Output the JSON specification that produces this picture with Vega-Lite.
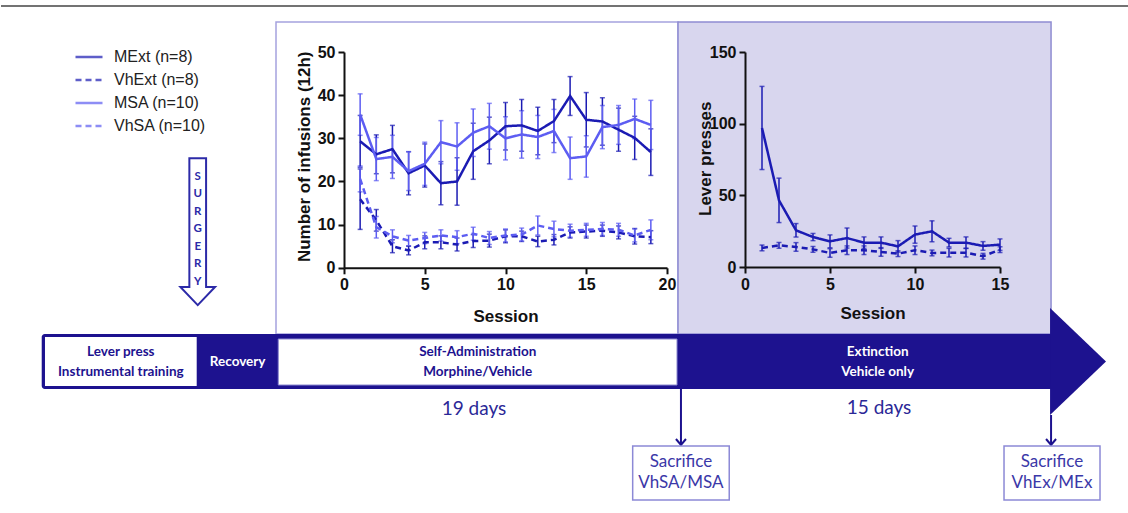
{
  "$schema": "https://vega.github.io/schema/vega-lite/v6.json",
  "padding": 0,
  "autosize": {"type": "pad"},
  "background": "white",
  "spacing": 0,
  "bounds": "flush",
  "config": {
    "view": {"stroke": null},
    "axis": {
      "domain": true, "domainColor": "#111", "domainWidth": 2, "grid": false,
      "labelFont": "Liberation Sans", "labelFontSize": 16, "labelFontWeight": "bold", "labelColor": "#111",
      "labelFlush": false, "labelOverlap": false, "labelPadding": 3,
      "tickColor": "#111", "tickWidth": 2, "tickSize": 6,
      "titleFont": "Liberation Sans", "titleFontSize": 17, "titleFontWeight": "bold", "titleColor": "#111"
    }
  },
  "datasets": {
    "sa": [
      {"s":1,"g":"MExt (n=8)","m":29.3,"lo":23.3,"hi":35.3},
      {"s":2,"g":"MExt (n=8)","m":26.3,"lo":21.8,"hi":30.8},
      {"s":3,"g":"MExt (n=8)","m":27.5,"lo":22.0,"hi":33.0},
      {"s":4,"g":"MExt (n=8)","m":21.9,"lo":16.9,"hi":26.9},
      {"s":5,"g":"MExt (n=8)","m":23.7,"lo":18.7,"hi":28.7},
      {"s":6,"g":"MExt (n=8)","m":19.6,"lo":14.6,"hi":24.6},
      {"s":7,"g":"MExt (n=8)","m":20.0,"lo":14.5,"hi":25.5},
      {"s":8,"g":"MExt (n=8)","m":27.0,"lo":20.5,"hi":33.5},
      {"s":9,"g":"MExt (n=8)","m":29.5,"lo":24.1,"hi":34.9},
      {"s":10,"g":"MExt (n=8)","m":32.8,"lo":27.3,"hi":38.3},
      {"s":11,"g":"MExt (n=8)","m":33.0,"lo":27.0,"hi":39.0},
      {"s":12,"g":"MExt (n=8)","m":31.7,"lo":26.2,"hi":37.2},
      {"s":13,"g":"MExt (n=8)","m":34.0,"lo":29.0,"hi":39.0},
      {"s":14,"g":"MExt (n=8)","m":39.8,"lo":35.3,"hi":44.3},
      {"s":15,"g":"MExt (n=8)","m":34.3,"lo":28.0,"hi":40.6},
      {"s":16,"g":"MExt (n=8)","m":33.9,"lo":28.4,"hi":39.4},
      {"s":17,"g":"MExt (n=8)","m":32.0,"lo":27.0,"hi":37.0},
      {"s":18,"g":"MExt (n=8)","m":30.1,"lo":25.1,"hi":35.1},
      {"s":19,"g":"MExt (n=8)","m":26.8,"lo":21.4,"hi":32.2},
      {"s":1,"g":"MSA (n=10)","m":35.5,"lo":30.7,"hi":40.3},
      {"s":2,"g":"MSA (n=10)","m":25.2,"lo":20.2,"hi":30.2},
      {"s":3,"g":"MSA (n=10)","m":25.7,"lo":20.7,"hi":30.7},
      {"s":4,"g":"MSA (n=10)","m":22.4,"lo":17.9,"hi":26.9},
      {"s":5,"g":"MSA (n=10)","m":24.1,"lo":19.1,"hi":29.1},
      {"s":6,"g":"MSA (n=10)","m":29.1,"lo":24.1,"hi":34.1},
      {"s":7,"g":"MSA (n=10)","m":28.1,"lo":22.6,"hi":33.6},
      {"s":8,"g":"MSA (n=10)","m":31.3,"lo":25.8,"hi":36.8},
      {"s":9,"g":"MSA (n=10)","m":32.8,"lo":27.5,"hi":38.1},
      {"s":10,"g":"MSA (n=10)","m":30.0,"lo":25.0,"hi":35.0},
      {"s":11,"g":"MSA (n=10)","m":30.9,"lo":25.4,"hi":36.4},
      {"s":12,"g":"MSA (n=10)","m":30.3,"lo":25.3,"hi":35.3},
      {"s":13,"g":"MSA (n=10)","m":31.7,"lo":26.7,"hi":36.7},
      {"s":14,"g":"MSA (n=10)","m":25.4,"lo":20.5,"hi":30.3},
      {"s":15,"g":"MSA (n=10)","m":25.8,"lo":21.0,"hi":30.6},
      {"s":16,"g":"MSA (n=10)","m":32.6,"lo":27.6,"hi":37.6},
      {"s":17,"g":"MSA (n=10)","m":33.1,"lo":28.6,"hi":37.6},
      {"s":18,"g":"MSA (n=10)","m":34.5,"lo":29.9,"hi":39.1},
      {"s":19,"g":"MSA (n=10)","m":33.1,"lo":27.4,"hi":38.8},
      {"s":1,"g":"VhExt (n=8)","m":15.9,"lo":8.9,"hi":22.9},
      {"s":2,"g":"VhExt (n=8)","m":11.0,"lo":8.5,"hi":13.5},
      {"s":3,"g":"VhExt (n=8)","m":5.0,"lo":3.5,"hi":6.5},
      {"s":4,"g":"VhExt (n=8)","m":4.0,"lo":3.0,"hi":5.0},
      {"s":5,"g":"VhExt (n=8)","m":5.9,"lo":4.4,"hi":7.4},
      {"s":6,"g":"VhExt (n=8)","m":5.9,"lo":4.4,"hi":7.4},
      {"s":7,"g":"VhExt (n=8)","m":5.4,"lo":3.9,"hi":6.9},
      {"s":8,"g":"VhExt (n=8)","m":6.2,"lo":4.7,"hi":7.7},
      {"s":9,"g":"VhExt (n=8)","m":6.3,"lo":4.8,"hi":7.8},
      {"s":10,"g":"VhExt (n=8)","m":7.3,"lo":5.8,"hi":8.8},
      {"s":11,"g":"VhExt (n=8)","m":7.3,"lo":6.1,"hi":8.5},
      {"s":12,"g":"VhExt (n=8)","m":6.1,"lo":4.9,"hi":7.3},
      {"s":13,"g":"VhExt (n=8)","m":6.5,"lo":5.3,"hi":7.7},
      {"s":14,"g":"VhExt (n=8)","m":8.2,"lo":6.9,"hi":9.5},
      {"s":15,"g":"VhExt (n=8)","m":8.4,"lo":6.9,"hi":9.9},
      {"s":16,"g":"VhExt (n=8)","m":8.6,"lo":7.3,"hi":9.9},
      {"s":17,"g":"VhExt (n=8)","m":8.2,"lo":6.7,"hi":9.7},
      {"s":18,"g":"VhExt (n=8)","m":7.3,"lo":5.5,"hi":9.1},
      {"s":19,"g":"VhExt (n=8)","m":7.1,"lo":5.6,"hi":8.6},
      {"s":1,"g":"VhSA (n=10)","m":20.6,"lo":17.6,"hi":23.6},
      {"s":2,"g":"VhSA (n=10)","m":9.4,"lo":6.9,"hi":11.9},
      {"s":3,"g":"VhSA (n=10)","m":7.3,"lo":5.8,"hi":8.8},
      {"s":4,"g":"VhSA (n=10)","m":6.3,"lo":5.1,"hi":7.5},
      {"s":5,"g":"VhSA (n=10)","m":6.9,"lo":5.6,"hi":8.2},
      {"s":6,"g":"VhSA (n=10)","m":7.5,"lo":6.2,"hi":8.8},
      {"s":7,"g":"VhSA (n=10)","m":7.1,"lo":5.6,"hi":8.6},
      {"s":8,"g":"VhSA (n=10)","m":7.9,"lo":6.4,"hi":9.4},
      {"s":9,"g":"VhSA (n=10)","m":6.9,"lo":5.4,"hi":8.4},
      {"s":10,"g":"VhSA (n=10)","m":7.5,"lo":6.0,"hi":9.0},
      {"s":11,"g":"VhSA (n=10)","m":7.7,"lo":6.2,"hi":9.2},
      {"s":12,"g":"VhSA (n=10)","m":9.8,"lo":7.6,"hi":12.0},
      {"s":13,"g":"VhSA (n=10)","m":9.0,"lo":7.2,"hi":10.8},
      {"s":14,"g":"VhSA (n=10)","m":8.6,"lo":7.1,"hi":10.1},
      {"s":15,"g":"VhSA (n=10)","m":8.8,"lo":7.3,"hi":10.3},
      {"s":16,"g":"VhSA (n=10)","m":9.0,"lo":7.5,"hi":10.5},
      {"s":17,"g":"VhSA (n=10)","m":8.8,"lo":7.3,"hi":10.3},
      {"s":18,"g":"VhSA (n=10)","m":7.5,"lo":6.0,"hi":9.0},
      {"s":19,"g":"VhSA (n=10)","m":8.8,"lo":6.5,"hi":11.1}
    ],
    "ext": [
      {"s":1,"g":"MExt (n=8)","m":97.0,"lo":68.0,"hi":126.0},
      {"s":2,"g":"MExt (n=8)","m":46.5,"lo":31.0,"hi":62.0},
      {"s":3,"g":"MExt (n=8)","m":25.6,"lo":20.9,"hi":30.3},
      {"s":4,"g":"MExt (n=8)","m":20.9,"lo":18.4,"hi":23.4},
      {"s":5,"g":"MExt (n=8)","m":17.9,"lo":13.4,"hi":22.4},
      {"s":6,"g":"MExt (n=8)","m":20.2,"lo":13.2,"hi":27.2},
      {"s":7,"g":"MExt (n=8)","m":17.0,"lo":13.0,"hi":21.0},
      {"s":8,"g":"MExt (n=8)","m":17.0,"lo":13.0,"hi":21.0},
      {"s":9,"g":"MExt (n=8)","m":14.4,"lo":10.4,"hi":18.4},
      {"s":10,"g":"MExt (n=8)","m":22.6,"lo":16.6,"hi":28.6},
      {"s":11,"g":"MExt (n=8)","m":24.9,"lo":17.6,"hi":32.2},
      {"s":12,"g":"MExt (n=8)","m":17.0,"lo":14.0,"hi":20.0},
      {"s":13,"g":"MExt (n=8)","m":17.0,"lo":13.0,"hi":21.0},
      {"s":14,"g":"MExt (n=8)","m":14.7,"lo":11.7,"hi":17.7},
      {"s":15,"g":"MExt (n=8)","m":15.6,"lo":11.6,"hi":19.6},
      {"s":1,"g":"VhExt (n=8)","m":13.3,"lo":11.3,"hi":15.3},
      {"s":2,"g":"VhExt (n=8)","m":15.1,"lo":13.1,"hi":17.1},
      {"s":3,"g":"VhExt (n=8)","m":14.0,"lo":11.0,"hi":17.0},
      {"s":4,"g":"VhExt (n=8)","m":12.3,"lo":10.3,"hi":14.3},
      {"s":5,"g":"VhExt (n=8)","m":9.8,"lo":6.8,"hi":12.8},
      {"s":6,"g":"VhExt (n=8)","m":11.7,"lo":8.7,"hi":14.7},
      {"s":7,"g":"VhExt (n=8)","m":11.7,"lo":8.7,"hi":14.7},
      {"s":8,"g":"VhExt (n=8)","m":10.5,"lo":7.5,"hi":13.5},
      {"s":9,"g":"VhExt (n=8)","m":9.3,"lo":7.3,"hi":11.3},
      {"s":10,"g":"VhExt (n=8)","m":11.7,"lo":8.7,"hi":14.7},
      {"s":11,"g":"VhExt (n=8)","m":9.8,"lo":7.8,"hi":11.8},
      {"s":12,"g":"VhExt (n=8)","m":10.0,"lo":7.0,"hi":13.0},
      {"s":13,"g":"VhExt (n=8)","m":10.0,"lo":7.0,"hi":13.0},
      {"s":14,"g":"VhExt (n=8)","m":7.5,"lo":5.5,"hi":9.5},
      {"s":15,"g":"VhExt (n=8)","m":12.1,"lo":10.1,"hi":14.1}
    ]
  },
  "vconcat": [
    {
      "width": 1128,
      "height": 51.7,
      "data": {"values": [{}]},
      "layer": [
        {"mark": {"type": "rect", "fill": "white"},
         "encoding": {"x": {"datum": 0, "type": "quantitative", "scale": {"domain": [0, 100], "nice": false, "zero": false}, "axis": null}, "x2": {"datum": 100},
                      "y": {"datum": 0, "type": "quantitative", "scale": {"domain": [0, 10.078], "nice": false, "zero": false, "reverse": true}, "axis": null}, "y2": {"datum": 100}}},
        {"mark": {"type": "rule", "stroke": "#444", "strokeWidth": 1.5},
         "encoding": {"x": {"datum": 0, "type": "quantitative", "scale": {"domain": [0, 100], "nice": false, "zero": false}, "axis": null}, "x2": {"datum": 100},
                      "y": {"datum": 1.17, "type": "quantitative", "scale": {"domain": [0, 10.078], "nice": false, "zero": false, "reverse": true}, "axis": null}}},
        {"mark": {"type": "rect", "fill": "white", "stroke": "#a5a2de", "strokeWidth": 1.5},
         "encoding": {"x": {"datum": 24.38, "type": "quantitative", "scale": {"domain": [0, 100], "nice": false, "zero": false}, "axis": null}, "x2": {"datum": 60.02},
                      "y": {"datum": 4.29, "type": "quantitative", "scale": {"domain": [0, 10.078], "nice": false, "zero": false, "reverse": true}, "axis": null}, "y2": {"datum": 65.11}}},
        {"mark": {"type": "rect", "fill": "#d8d6ee", "stroke": "#8f8cd2", "strokeWidth": 1.5},
         "encoding": {"x": {"datum": 60.02, "type": "quantitative", "scale": {"domain": [0, 100], "nice": false, "zero": false}, "axis": null}, "x2": {"datum": 93.09},
                      "y": {"datum": 4.29, "type": "quantitative", "scale": {"domain": [0, 10.078], "nice": false, "zero": false, "reverse": true}, "axis": null}, "y2": {"datum": 65.11}}},
        {"mark": {"type": "rect", "fill": "#1d128f", "cornerRadius": 3},
         "encoding": {"x": {"datum": 3.61, "type": "quantitative", "scale": {"domain": [0, 100], "nice": false, "zero": false}, "axis": null}, "x2": {"datum": 93.26},
                      "y": {"datum": 65.11, "type": "quantitative", "scale": {"domain": [0, 10.078], "nice": false, "zero": false, "reverse": true}, "axis": null}, "y2": {"datum": 75.83}}},
        {"mark": {"type": "point", "shape": "M-0.523,-1L0.523,0L-0.523,1Z", "size": 11449, "filled": true, "color": "#1d128f", "opacity": 1, "strokeWidth": 0},
         "encoding": {"x": {"datum": 95.48, "type": "quantitative", "scale": {"domain": [0, 100], "nice": false, "zero": false}, "axis": null},
                      "y": {"datum": 70.47, "type": "quantitative", "scale": {"domain": [0, 10.078], "nice": false, "zero": false, "reverse": true}, "axis": null}}},
        {"mark": {"type": "rect", "fill": "white"},
         "encoding": {"x": {"datum": 3.90, "type": "quantitative", "scale": {"domain": [0, 100], "nice": false, "zero": false}, "axis": null}, "x2": {"datum": 17.35},
                      "y": {"datum": 65.69, "type": "quantitative", "scale": {"domain": [0, 10.078], "nice": false, "zero": false, "reverse": true}, "axis": null}, "y2": {"datum": 75.24}}},
        {"mark": {"type": "rect", "fill": "white", "stroke": "#8a87d0", "strokeWidth": 1},
         "encoding": {"x": {"datum": 24.58, "type": "quantitative", "scale": {"domain": [0, 100], "nice": false, "zero": false}, "axis": null}, "x2": {"datum": 59.93},
                      "y": {"datum": 66.08, "type": "quantitative", "scale": {"domain": [0, 10.078], "nice": false, "zero": false, "reverse": true}, "axis": null}, "y2": {"datum": 75.05}}},
        {"mark": {"type": "rule", "stroke": "#1d128f", "strokeWidth": 2},
         "encoding": {"x": {"datum": 60.28, "type": "quantitative", "scale": {"domain": [0, 100], "nice": false, "zero": false}, "axis": null},
                      "y": {"datum": 75.83, "type": "quantitative", "scale": {"domain": [0, 10.078], "nice": false, "zero": false, "reverse": true}, "axis": null}, "y2": {"datum": 86.74}}},
        {"mark": {"type": "rule", "stroke": "#1d128f", "strokeWidth": 2},
         "encoding": {"x": {"datum": 93.09, "type": "quantitative", "scale": {"domain": [0, 100], "nice": false, "zero": false}, "axis": null},
                      "y": {"datum": 80.9, "type": "quantitative", "scale": {"domain": [0, 10.078], "nice": false, "zero": false, "reverse": true}, "axis": null}, "y2": {"datum": 86.74}}},
        {"mark": {"type": "point", "shape": "M-1,-0.6L0,0.6L1,-0.6", "size": 100, "filled": false, "stroke": "#1d128f", "strokeWidth": 2, "opacity": 1},
         "encoding": {"x": {"datum": 60.28, "type": "quantitative", "scale": {"domain": [0, 100], "nice": false, "zero": false}, "axis": null},
                      "y": {"datum": 86.16, "type": "quantitative", "scale": {"domain": [0, 10.078], "nice": false, "zero": false, "reverse": true}, "axis": null}}},
        {"mark": {"type": "point", "shape": "M-1,-0.6L0,0.6L1,-0.6", "size": 100, "filled": false, "stroke": "#1d128f", "strokeWidth": 2, "opacity": 1},
         "encoding": {"x": {"datum": 93.09, "type": "quantitative", "scale": {"domain": [0, 100], "nice": false, "zero": false}, "axis": null},
                      "y": {"datum": 86.16, "type": "quantitative", "scale": {"domain": [0, 10.078], "nice": false, "zero": false, "reverse": true}, "axis": null}}},
        {"mark": {"type": "rect", "fill": "white", "stroke": "#8c89d6", "strokeWidth": 1.5},
         "encoding": {"x": {"datum": 56.0, "type": "quantitative", "scale": {"domain": [0, 100], "nice": false, "zero": false}, "axis": null}, "x2": {"datum": 64.56},
                      "y": {"datum": 86.94, "type": "quantitative", "scale": {"domain": [0, 10.078], "nice": false, "zero": false, "reverse": true}, "axis": null}, "y2": {"datum": 97.47}}},
        {"mark": {"type": "rect", "fill": "white", "stroke": "#8c89d6", "strokeWidth": 1.5},
         "encoding": {"x": {"datum": 88.92, "type": "quantitative", "scale": {"domain": [0, 100], "nice": false, "zero": false}, "axis": null}, "x2": {"datum": 97.43},
                      "y": {"datum": 86.94, "type": "quantitative", "scale": {"domain": [0, 10.078], "nice": false, "zero": false, "reverse": true}, "axis": null}, "y2": {"datum": 97.47}}},
        {"mark": {"type": "point", "shape": "M-0.114,-1L0.114,-1L0.114,0.754L0.236,0.754L0,1L-0.236,0.754L-0.114,0.754Z", "size": 21521, "fill": "white", "stroke": "#2c2aa8", "strokeWidth": 2, "opacity": 1},
         "encoding": {"x": {"datum": 17.44, "type": "quantitative", "scale": {"domain": [0, 100], "nice": false, "zero": false}, "axis": null},
                      "y": {"datum": 45.17, "type": "quantitative", "scale": {"domain": [0, 10.078], "nice": false, "zero": false, "reverse": true}, "axis": null}}},
        {"mark": {"type": "text", "font": "Lato", "fontSize": 11.5, "fontWeight": "bold", "color": "#2c2aa8", "lineHeight": 17.5, "align": "center", "baseline": "middle"},
         "encoding": {"x": {"datum": 17.44, "type": "quantitative", "scale": {"domain": [0, 100], "nice": false, "zero": false}, "axis": null},
                      "y": {"datum": 34.44, "type": "quantitative", "scale": {"domain": [0, 10.078], "nice": false, "zero": false, "reverse": true}, "axis": null},
                      "text": {"value": ["S", "U", "R", "G", "E", "R", "Y"]}}},
        {"mark": {"type": "text", "font": "Lato", "fontSize": 13.5, "fontWeight": "bold", "color": "#1d128f", "lineHeight": 20, "align": "center", "baseline": "middle"},
         "encoding": {"x": {"datum": 10.62, "type": "quantitative", "scale": {"domain": [0, 100], "nice": false, "zero": false}, "axis": null},
                      "y": {"datum": 68.56, "type": "quantitative", "scale": {"domain": [0, 10.078], "nice": false, "zero": false, "reverse": true}, "axis": null},
                      "text": {"value": ["Lever press", "Instrumental training"]}}},
        {"mark": {"type": "text", "font": "Lato", "fontSize": 13.5, "fontWeight": "bold", "color": "white", "align": "center", "baseline": "middle"},
         "encoding": {"x": {"datum": 20.98, "type": "quantitative", "scale": {"domain": [0, 100], "nice": false, "zero": false}, "axis": null},
                      "y": {"datum": 70.51, "type": "quantitative", "scale": {"domain": [0, 10.078], "nice": false, "zero": false, "reverse": true}, "axis": null},
                      "text": {"value": "Recovery"}}},
        {"mark": {"type": "text", "font": "Lato", "fontSize": 13.5, "fontWeight": "bold", "color": "#1d128f", "lineHeight": 20, "align": "center", "baseline": "middle"},
         "encoding": {"x": {"datum": 42.26, "type": "quantitative", "scale": {"domain": [0, 100], "nice": false, "zero": false}, "axis": null},
                      "y": {"datum": 68.56, "type": "quantitative", "scale": {"domain": [0, 10.078], "nice": false, "zero": false, "reverse": true}, "axis": null},
                      "text": {"value": ["Self-Administration", "Morphine/Vehicle"]}}},
        {"mark": {"type": "text", "font": "Lato", "fontSize": 13.5, "fontWeight": "bold", "color": "white", "lineHeight": 20, "align": "center", "baseline": "middle"},
         "encoding": {"x": {"datum": 77.72, "type": "quantitative", "scale": {"domain": [0, 100], "nice": false, "zero": false}, "axis": null},
                      "y": {"datum": 68.62, "type": "quantitative", "scale": {"domain": [0, 10.078], "nice": false, "zero": false, "reverse": true}, "axis": null},
                      "text": {"value": ["Extinction", "Vehicle only"]}}},
        {"mark": {"type": "text", "font": "Lato", "fontSize": 19, "color": "#2b2897", "align": "center", "baseline": "middle"},
         "encoding": {"x": {"datum": 41.93, "type": "quantitative", "scale": {"domain": [0, 100], "nice": false, "zero": false}, "axis": null},
                      "y": {"datum": 79.79, "type": "quantitative", "scale": {"domain": [0, 10.078], "nice": false, "zero": false, "reverse": true}, "axis": null},
                      "text": {"value": "19 days"}}},
        {"mark": {"type": "text", "font": "Lato", "fontSize": 19, "color": "#2b2897", "align": "center", "baseline": "middle"},
         "encoding": {"x": {"datum": 77.84, "type": "quantitative", "scale": {"domain": [0, 100], "nice": false, "zero": false}, "axis": null},
                      "y": {"datum": 79.53, "type": "quantitative", "scale": {"domain": [0, 10.078], "nice": false, "zero": false, "reverse": true}, "axis": null},
                      "text": {"value": "15 days"}}},
        {"mark": {"type": "text", "font": "Lato", "fontSize": 17, "color": "#3b38a8", "lineHeight": 21, "align": "center", "baseline": "middle"},
         "encoding": {"x": {"datum": 60.28, "type": "quantitative", "scale": {"domain": [0, 100], "nice": false, "zero": false}, "axis": null},
                      "y": {"datum": 90.06, "type": "quantitative", "scale": {"domain": [0, 10.078], "nice": false, "zero": false, "reverse": true}, "axis": null},
                      "text": {"value": ["Sacrifice", "VhSA/MSA"]}}},
        {"mark": {"type": "text", "font": "Lato", "fontSize": 17, "color": "#3b38a8", "lineHeight": 21, "align": "center", "baseline": "middle"},
         "encoding": {"x": {"datum": 93.17, "type": "quantitative", "scale": {"domain": [0, 100], "nice": false, "zero": false}, "axis": null},
                      "y": {"datum": 90.06, "type": "quantitative", "scale": {"domain": [0, 10.078], "nice": false, "zero": false, "reverse": true}, "axis": null},
                      "text": {"value": ["Sacrifice", "VhEx/MEx"]}}}
      ]
    },
    {
      "spacing": 0,
      "bounds": "flush",
      "hconcat": [
        {"width": 342.7, "height": 215, "data": {"values": []}, "mark": "point"},
        {
          "width": 323,
          "height": 215.8,
          "data": {"name": "sa"},
          "layer": [
            {"mark": {"type": "errorbar", "ticks": {"size": 5}, "thickness": 1.5},
             "encoding": {
               "x": {"field": "s", "type": "quantitative", "scale": {"domain": [0, 20], "nice": false, "zero": false},
                     "axis": {"values": [0, 5, 10, 15, 20], "title": "Session", "titleX": 161.5, "titleY": 49, "titleBaseline": "middle"}},
               "y": {"field": "lo", "type": "quantitative", "scale": {"domain": [0, 50], "nice": false, "zero": false},
                     "axis": {"values": [0, 10, 20, 30, 40, 50], "title": "Number of infusions (12h)", "titleX": -39.5, "titleY": 104.3, "titleBaseline": "middle", "titleAngle": 270}},
               "y2": {"field": "hi"},
               "color": {"field": "g", "type": "nominal", "scale": {"domain": ["MExt (n=8)", "VhExt (n=8)", "MSA (n=10)", "VhSA (n=10)"], "range": ["#1b1bb3", "#1b1bb3", "#5d5df2", "#5d5df2"]},
                         "legend": {"title": null, "orient": "none", "legendX": 73, "legendY": 42, "symbolType": "stroke", "symbolSize": 729, "symbolStrokeWidth": 2.5, "labelFont": "Liberation Sans", "labelFontSize": 16, "labelColor": "#222", "labelOffset": 10, "rowPadding": 0, "padding": 0}}
             }},
            {"mark": {"type": "line", "strokeWidth": 2.5},
             "encoding": {
               "x": {"field": "s", "type": "quantitative", "scale": {"domain": [0, 20], "nice": false, "zero": false},
                     "axis": {"values": [0, 5, 10, 15, 20], "title": "Session", "titleX": 161.5, "titleY": 49, "titleBaseline": "middle"}},
               "y": {"field": "m", "type": "quantitative", "scale": {"domain": [0, 50], "nice": false, "zero": false},
                     "axis": {"values": [0, 10, 20, 30, 40, 50], "title": "Number of infusions (12h)", "titleX": -39.5, "titleY": 104.3, "titleBaseline": "middle", "titleAngle": 270}},
               "color": {"field": "g", "type": "nominal", "scale": {"domain": ["MExt (n=8)", "VhExt (n=8)", "MSA (n=10)", "VhSA (n=10)"], "range": ["#1b1bb3", "#1b1bb3", "#5d5df2", "#5d5df2"]},
                         "legend": {"title": null, "orient": "none", "legendX": 73, "legendY": 42, "symbolType": "stroke", "symbolSize": 729, "symbolStrokeWidth": 2.5, "labelFont": "Liberation Sans", "labelFontSize": 16, "labelColor": "#222", "labelOffset": 10, "rowPadding": 0, "padding": 0}},
               "strokeDash": {"field": "g", "type": "nominal", "scale": {"domain": ["MExt (n=8)", "VhExt (n=8)", "MSA (n=10)", "VhSA (n=10)"], "range": [[1, 0], [6, 4], [1, 0], [6, 4]]},
                         "legend": {"title": null, "orient": "none", "legendX": 73, "legendY": 42, "symbolType": "stroke", "symbolSize": 729, "symbolStrokeWidth": 2.5, "labelFont": "Liberation Sans", "labelFontSize": 16, "labelColor": "#222", "labelOffset": 10, "rowPadding": 0, "padding": 0}}
             }}
          ]
        },
        {"width": 77.6, "height": 215, "data": {"values": []}, "mark": "point"},
        {
          "width": 255,
          "height": 215,
          "data": {"name": "ext"},
          "layer": [
            {"mark": {"type": "errorbar", "ticks": {"size": 5}, "thickness": 1.5},
             "encoding": {
               "x": {"field": "s", "type": "quantitative", "scale": {"domain": [0, 15], "nice": false, "zero": false},
                     "axis": {"values": [0, 5, 10, 15], "title": "Session", "titleX": 127.5, "titleY": 46.6, "titleBaseline": "middle"}},
               "y": {"field": "lo", "type": "quantitative", "scale": {"domain": [0, 150], "nice": false, "zero": false},
                     "axis": {"values": [0, 50, 100, 150], "title": "Lever presses", "titleX": -40, "titleY": 106.3, "titleBaseline": "middle", "titleAngle": 270}},
               "y2": {"field": "hi"},
               "color": {"field": "g", "type": "nominal", "scale": {"domain": ["MExt (n=8)", "VhExt (n=8)", "MSA (n=10)", "VhSA (n=10)"], "range": ["#1b1bb3", "#1b1bb3", "#5d5df2", "#5d5df2"]},
                         "legend": {"title": null, "orient": "none", "legendX": 73, "legendY": 42, "symbolType": "stroke", "symbolSize": 729, "symbolStrokeWidth": 2.5, "labelFont": "Liberation Sans", "labelFontSize": 16, "labelColor": "#222", "labelOffset": 10, "rowPadding": 0, "padding": 0}}
             }},
            {"mark": {"type": "line", "strokeWidth": 2.5},
             "encoding": {
               "x": {"field": "s", "type": "quantitative", "scale": {"domain": [0, 15], "nice": false, "zero": false},
                     "axis": {"values": [0, 5, 10, 15], "title": "Session", "titleX": 127.5, "titleY": 46.6, "titleBaseline": "middle"}},
               "y": {"field": "m", "type": "quantitative", "scale": {"domain": [0, 150], "nice": false, "zero": false},
                     "axis": {"values": [0, 50, 100, 150], "title": "Lever presses", "titleX": -40, "titleY": 106.3, "titleBaseline": "middle", "titleAngle": 270}},
               "color": {"field": "g", "type": "nominal", "scale": {"domain": ["MExt (n=8)", "VhExt (n=8)", "MSA (n=10)", "VhSA (n=10)"], "range": ["#1b1bb3", "#1b1bb3", "#5d5df2", "#5d5df2"]},
                         "legend": {"title": null, "orient": "none", "legendX": 73, "legendY": 42, "symbolType": "stroke", "symbolSize": 729, "symbolStrokeWidth": 2.5, "labelFont": "Liberation Sans", "labelFontSize": 16, "labelColor": "#222", "labelOffset": 10, "rowPadding": 0, "padding": 0}},
               "strokeDash": {"field": "g", "type": "nominal", "scale": {"domain": ["MExt (n=8)", "VhExt (n=8)", "MSA (n=10)", "VhSA (n=10)"], "range": [[1, 0], [6, 4], [1, 0], [6, 4]]},
                         "legend": {"title": null, "orient": "none", "legendX": 73, "legendY": 42, "symbolType": "stroke", "symbolSize": 729, "symbolStrokeWidth": 2.5, "labelFont": "Liberation Sans", "labelFontSize": 16, "labelColor": "#222", "labelOffset": 10, "rowPadding": 0, "padding": 0}}
             }}
          ]
        }
      ]
    }
  ]
}
